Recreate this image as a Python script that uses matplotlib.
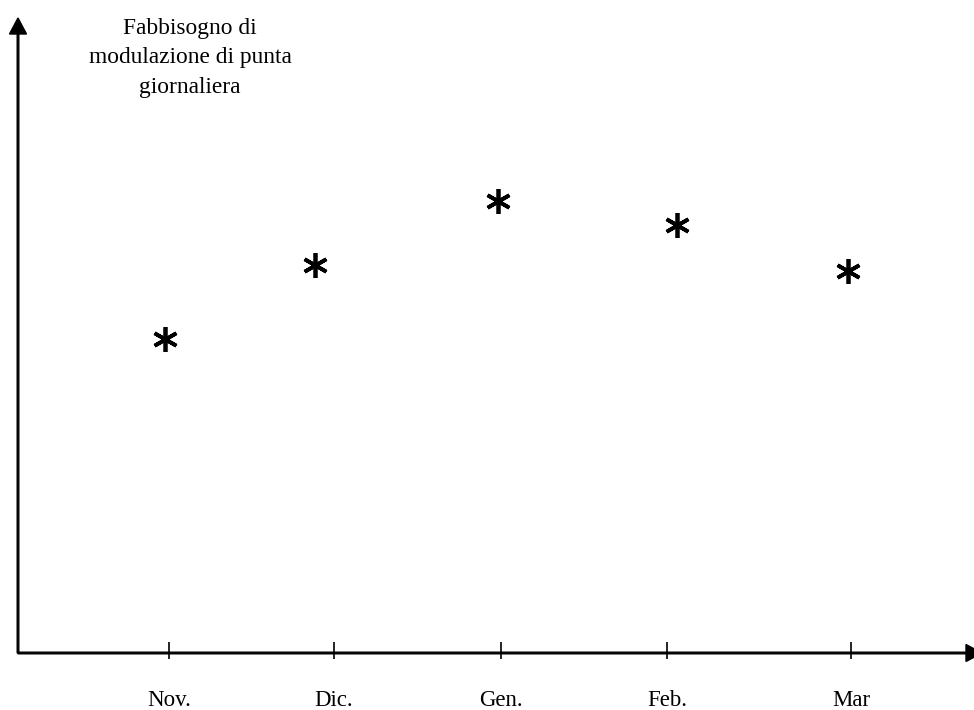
import matplotlib
matplotlib.use("Agg")
import matplotlib.pyplot as plt

# categorie e valori (unita' = pixel sopra l'asse x)
mesi = ["Nov.", "Dic.", "Gen.", "Feb.", "Mar"]
tick_x = [169, 334, 501, 667, 851]
punti_x = [165, 315, 498, 677, 848]
fabbisogno = [314, 388, 452, 428, 382]

titolo = "Fabbisogno di\nmodulazione di punta\ngiornaliera"


def main():
    plt.rcParams['font.family'] = ['Liberation Serif', 'DejaVu Serif']

    fig = plt.figure(figsize=(9.74, 7.10), dpi=100)
    ax = fig.add_axes([0, 0, 1, 1])
    ax.set_xlim(0, 974)
    ax.set_ylim(-57, 653)
    ax.axis('off')

    # assi con frecce
    ax.arrow(18, 0, 0, 635, width=1.6, head_width=17, head_length=16,
             length_includes_head=True, color='black', clip_on=False)
    ax.arrow(18, 0, 964, 0, width=1.6, head_width=17, head_length=16,
             length_includes_head=True, color='black', clip_on=False)

    # tacche e etichette
    ax.vlines(tick_x, -6, 11, color='black', linewidth=1.2)
    for x, m in zip(tick_x, mesi):
        ax.text(x, -47, m, ha='center', va='center', fontsize=16.5)

    ax.text(190, 595, titolo, ha='center', va='center', fontsize=16.8,
            multialignment='center', linespacing=1.55)

    ax.plot(punti_x, fabbisogno, linestyle='none', marker=(6, 2, 0),
            markersize=18, markeredgewidth=2.7, color='black')

    fig.savefig('out.png', dpi=100)


if __name__ == '__main__':
    main()
